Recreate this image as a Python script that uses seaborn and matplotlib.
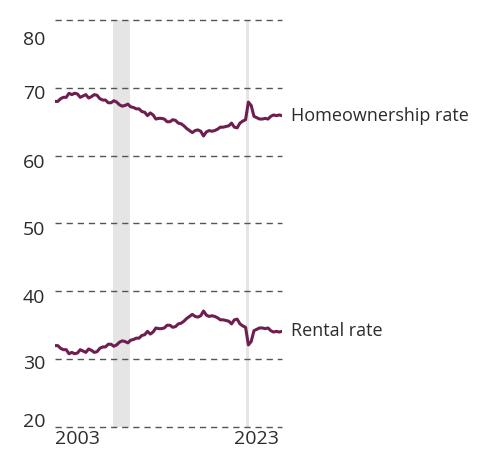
import matplotlib
matplotlib.use("Agg")
import matplotlib.pyplot as plt
import matplotlib.transforms as mtransforms
import pandas as pd
import seaborn as sns

# quarterly, 2003 Q1 .. 2023 Q2
years = [2003 + i / 4 for i in range(82)]

homeownership_rate = [
    68.0, 68.0, 68.4, 68.6,
    68.6, 69.2, 69.0, 69.2,
    69.1, 68.6, 68.8, 69.0,
    68.5, 68.7, 69.0, 68.9,
    68.4, 68.2, 68.2, 67.8,
    67.8, 68.1, 67.9, 67.5,
    67.3, 67.4, 67.6, 67.2,
    67.1, 66.9, 66.9, 66.5,
    66.4, 65.9, 66.3, 66.0,
    65.4, 65.5, 65.5, 65.4,
    65.0, 65.0, 65.3, 65.2,
    64.8, 64.7, 64.4, 64.0,
    63.7, 63.4, 63.7, 63.8,
    63.6, 62.9, 63.5, 63.7,
    63.6, 63.7, 63.9, 64.2,
    64.2, 64.3, 64.4, 64.8,
    64.2, 64.1, 64.8, 65.1,
    65.3, 67.9, 67.4, 65.8,
    65.6, 65.4, 65.4, 65.5,
    65.4, 65.8, 66.0, 65.9,
    66.0, 65.9,
]

rental_rate = [
    32.0, 32.0, 31.6, 31.4,
    31.4, 30.8, 31.0, 30.8,
    30.9, 31.4, 31.2, 31.0,
    31.5, 31.3, 31.0, 31.1,
    31.6, 31.8, 31.8, 32.2,
    32.2, 31.9, 32.1, 32.5,
    32.7, 32.6, 32.4, 32.8,
    32.9, 33.1, 33.1, 33.5,
    33.6, 34.1, 33.7, 34.0,
    34.6, 34.5, 34.5, 34.6,
    35.0, 35.0, 34.7, 34.8,
    35.2, 35.3, 35.6, 36.0,
    36.3, 36.6, 36.3, 36.2,
    36.4, 37.1, 36.5, 36.3,
    36.4, 36.3, 36.1, 35.8,
    35.8, 35.7, 35.6, 35.2,
    35.8, 35.9, 35.2, 34.9,
    34.7, 32.1, 32.6, 34.2,
    34.4, 34.6, 34.6, 34.5,
    34.6, 34.2, 34.0, 34.1,
    34.0, 34.1,
]

series_labels = ["Homeownership rate", "Rental rate"]
recessions = [(2008.15, 2009.65), (2020.08, 2020.35)]
y_ticks = [20, 30, 40, 50, 60, 70, 80]
x_ticks = [2003, 2023]

LINE_COLOR = "#6e1f4f"
TEXT_COLOR = "#2b2b2b"

df = pd.DataFrame({
    "year": years * 2,
    "rate": homeownership_rate + rental_rate,
    "series": [series_labels[0]] * len(years) + [series_labels[1]] * len(years),
})

sns.set_style("white")
plt.rcParams["font.family"] = ["Open Sans", "DejaVu Sans"]

fig = plt.figure(figsize=(4.88, 4.51), dpi=100)
ax = fig.add_axes([55 / 488, 24 / 451, 227 / 488, 407 / 451])

for start, end in recessions:
    ax.axvspan(start, end, color="#e5e5e5", lw=0, zorder=0)

for y in y_ticks:
    ax.axhline(y, color="#555555", lw=1, ls=(0, (4.5, 3.5)), zorder=1, clip_on=False)

sns.lineplot(data=df, x="year", y="rate", units="series", estimator=None,
             color=LINE_COLOR, lw=2.2, ax=ax, legend=False, zorder=3)

# end-of-line labels
for label, values in zip(series_labels, [homeownership_rate, rental_rate]):
    ax.annotate(label, xy=(years[-1], values[-1]), xytext=(9, 0),
                textcoords="offset pixels", va="center", ha="left",
                fontsize=13, color=TEXT_COLOR, annotation_clip=False)

ax.set_xlim(years[0], years[-1])
ax.set_ylim(20, 80)
ax.set_xlabel("")
ax.set_ylabel("")
sns.despine(ax=ax, left=True, bottom=True)

ax.set_yticks(y_ticks)
ax.set_yticklabels([str(t) for t in y_ticks])
ax.set_xticks(x_ticks)
ax.set_xticklabels([str(t) for t in x_ticks])
ax.tick_params(axis="both", length=0, labelsize=14, labelcolor=TEXT_COLOR)
ax.tick_params(axis="y", pad=7)
ax.tick_params(axis="x", pad=2)

xlabels = ax.get_xticklabels()
xlabels[0].set_ha("left")
xlabels[-1].set_ha("right")

# y labels sit a little below their lines; top and bottom ones are pulled inward
y_offsets = {20: 7, 30: -3, 40: -5, 50: -5, 60: -5, 70: -4, 80: -18}
for lbl, t in zip(ax.get_yticklabels(), y_ticks):
    lbl.set_transform(lbl.get_transform()
                      + mtransforms.ScaledTranslation(0, y_offsets[t] / 100, fig.dpi_scale_trans))

fig.savefig("out.png", dpi=100)
